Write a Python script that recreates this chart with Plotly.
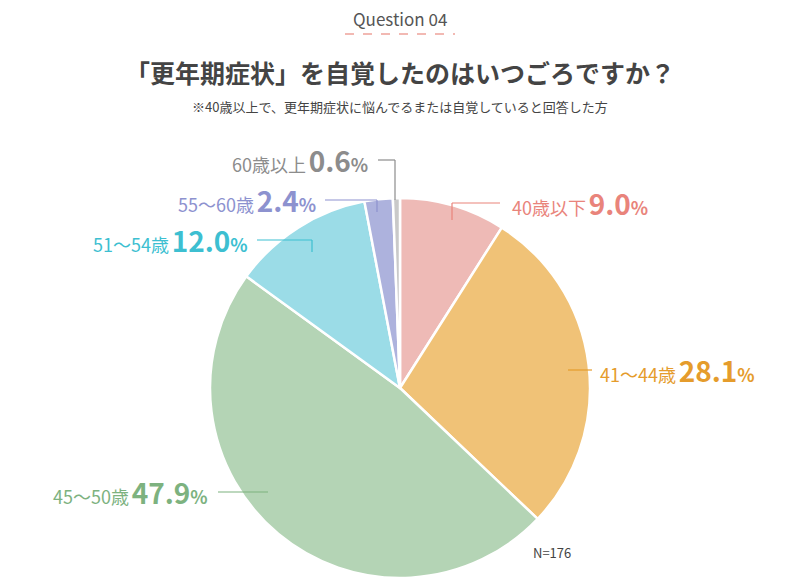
import plotly.graph_objects as go

labels = ["40歳以下", "41〜44歳", "45〜50歳", "51〜54歳", "55〜60歳", "60歳以上"]
values = [9.0, 28.1, 47.9, 12.0, 2.4, 0.6]
slice_colors = ["#EEBAB6", "#F0C277", "#B4D4B5", "#9BDCE7", "#ADB2DD", "#C9C9C9"]
text_colors = ["#E9847B", "#E59C2C", "#7DB27F", "#3DBFD1", "#8D92CF", "#8C8C8C"]

W, H = 800, 580
FONT = "Noto Sans CJK JP"
OFF = 8  # page offset seen in the screenshot


def px(x, y):
    return (x - OFF) / W, 1 - (y - OFF) / H


fig = go.Figure(go.Pie(
    labels=labels, values=values, sort=False, direction="clockwise", rotation=0,
    marker=dict(colors=slice_colors, line=dict(color="white", width=2.5)),
    textinfo="none", hoverinfo="label+percent", showlegend=False,
    domain=dict(x=[px(210, 0)[0], px(590, 0)[0]], y=[px(0, 578)[1], px(0, 198)[1]]),
))

label_pos = [
    (510, 203, "left", [(500, 203), (452, 203), (452, 220)]),
    (598, 370, "left", [(592, 370), (568, 370)]),
    (210, 492, "right", [(218, 492), (268, 492)]),
    (250, 240, "right", [(257, 240), (312, 240), (312, 252)]),
    (318, 200, "right", [(325, 200), (377, 200), (377, 212)]),
    (370, 160, "right", [(378, 160), (395, 160), (395, 200)]),
]

annotations = []
shapes = []
for lab, val, col, (x, y, side, pts) in zip(labels, values, text_colors, label_pos):
    ax, ay = px(x, y)
    annotations.append(dict(
        x=ax, y=ay, xref="paper", yref="paper", showarrow=False,
        xanchor=side, yanchor="middle",
        text=f"<span style='font-size:18px'>{lab}</span> <b style='font-size:28px'>{val:.1f}</b><b style='font-size:18px'>%</b>",
        font=dict(family=FONT, color=col),
    ))
    for (x0, y0), (x1, y1) in zip(pts[:-1], pts[1:]):
        a0, b0 = px(x0, y0)
        a1, b1 = px(x1, y1)
        shapes.append(dict(type="line", xref="paper", yref="paper", x0=a0, y0=b0, x1=a1, y1=b1,
                           line=dict(color=col, width=1.2)))

titles = [
    (400, 18, "Question 04", 17, "#555555"),
    (400, 72, "<b>「更年期症状」を自覚したのはいつごろですか？</b>", 25, "#444444"),
    (400, 106, "※40歳以上で、更年期症状に悩んでるまたは自覚していると回答した方", 13, "#444444"),
    (552, 552, "N=176", 13, "#444444"),
]
for x, y, t, s, c in titles:
    ax, ay = px(x, y)
    annotations.append(dict(x=ax, y=ay, xref="paper", yref="paper", showarrow=False,
                            xanchor="center", yanchor="middle", text=t,
                            font=dict(family=FONT, size=s, color=c)))

a0, b0 = px(345, 34)
a1, _ = px(455, 34)
shapes.append(dict(type="line", xref="paper", yref="paper", x0=a0, y0=b0, x1=a1, y1=b0,
                   line=dict(color="#EEA29B", width=1.5, dash="dash")))

fig.update_layout(
    width=W, height=H, margin=dict(l=0, r=0, t=0, b=0),
    paper_bgcolor="white", plot_bgcolor="white",
    annotations=annotations, shapes=shapes,
)
fig.write_html("out.html")
